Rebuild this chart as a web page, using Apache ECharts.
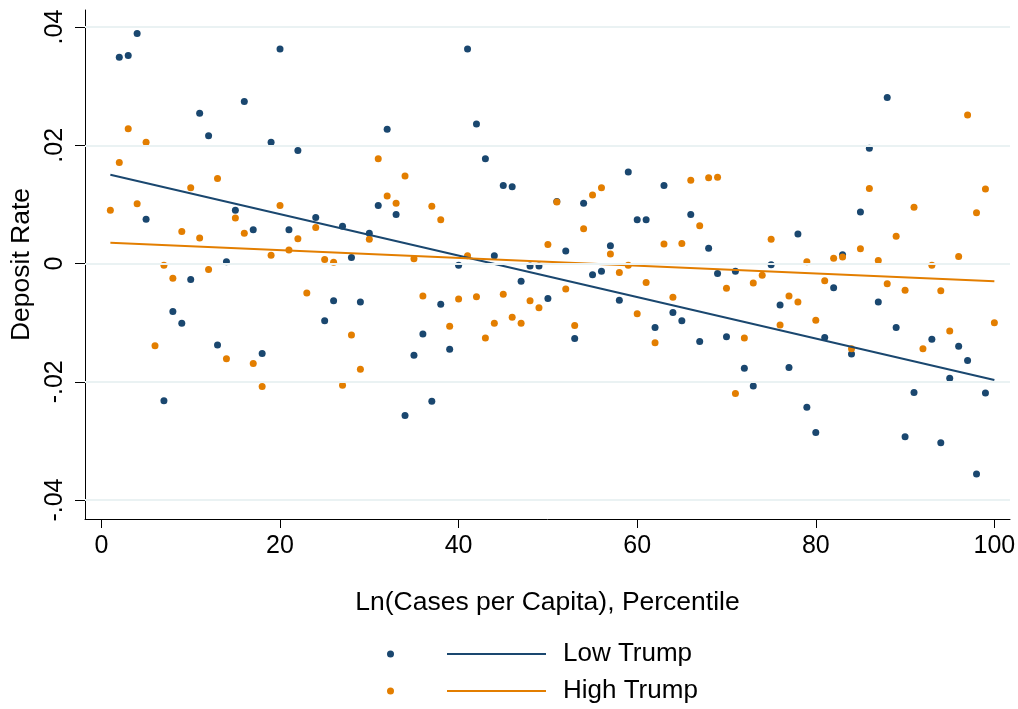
<!DOCTYPE html>
<html lang="en">
<head>
    <meta charset="UTF-8">
    <title>Deposit Rate</title>
    <script src="https://cdn.jsdelivr.net/npm/echarts@6.0.0/dist/echarts.min.js"></script>
    <style>
        html, body { margin: 0; padding: 0; background: #fff; }
        #main { width: 1018px; height: 709px; }
    </style>
</head>
<body>
<div id="main"></div>
<script>
    // percentiles 1..100, null where no dot is drawn
    var lowTrump = [
        null, 0.0349, 0.0352, 0.0389, 0.0075, null, -0.0232, -0.0081, -0.0101, -0.0027,
        0.0254, 0.0216, -0.0138, 0.0003, 0.0090, 0.0274, 0.0057, -0.0152, 0.0205, 0.0363,
        0.0057, 0.0191, null, 0.0078, -0.0097, -0.0063, 0.0063, 0.0010, -0.0065, 0.0051,
        0.0098, 0.0227, 0.0083, -0.0257, -0.0155, -0.0119, -0.0233, -0.0069, -0.0145, -0.0003,
        0.0363, 0.0236, 0.0177, 0.0013, 0.0132, 0.0130, -0.0030, -0.0004, -0.0004, -0.0059,
        0.0105, 0.0021, -0.0127, 0.0102, -0.0019, -0.0013, 0.0030, -0.0062, 0.0155, 0.0074,
        0.0074, -0.0108, 0.0132, -0.0083, -0.0097, 0.0083, -0.0132, 0.0026, -0.0017, -0.0124,
        -0.0013, -0.0177, -0.0207, null, -0.0002, -0.0070, -0.0176, 0.0050, -0.0243, -0.0286,
        -0.0125, -0.0041, 0.0015, -0.0153, 0.0087, 0.0195, -0.0065, 0.0281, -0.0108, -0.0293,
        -0.0218, null, -0.0128, -0.0303, -0.0194, -0.0140, -0.0164, -0.0356, -0.0219, null
    ];
    var highTrump = [
        0.0090, 0.0171, 0.0228, 0.0101, 0.0205, -0.0139, -0.0003, -0.0025, 0.0054, 0.0128,
        0.0043, -0.0010, 0.0144, -0.0161, 0.0077, 0.0051, -0.0169, -0.0208, 0.0014, 0.0098,
        0.0023, 0.0042, -0.0050, 0.0061, 0.0007, 0.0002, -0.0206, -0.0121, -0.0179, 0.0041,
        0.0177, 0.0114, 0.0102, 0.0148, 0.0008, -0.0055, 0.0097, 0.0074, -0.0106, -0.0060,
        0.0013, -0.0056, -0.0126, -0.0101, -0.0052, -0.0091, -0.0101, -0.0063, -0.0075, 0.0032,
        0.0104, -0.0043, -0.0105, 0.0059, 0.0116, 0.0128, 0.0016, -0.0015, -0.0003, -0.0085,
        -0.0032, -0.0134, 0.0033, -0.0057, 0.0034, 0.0141, 0.0064, 0.0145, 0.0146, -0.0042,
        -0.0220, -0.0126, -0.0033, -0.0020, 0.0041, -0.0104, -0.0055, -0.0065, 0.0003, -0.0096,
        -0.0029, 0.0009, 0.0011, -0.0144, 0.0025, 0.0127, 0.0005, -0.0034, 0.0046, -0.0045,
        0.0095, -0.0144, -0.0003, -0.0046, -0.0114, 0.0012, 0.0251, 0.0086, 0.0126, -0.0100
    ];
    // fitted lines, end points
    var lowFit = [[1, 0.0150], [100, -0.0197]];
    var highFit = [[1, 0.0035], [100, -0.0030]];

    var xTicks = [0, 20, 40, 60, 80, 100];
    var yTicks = [-0.04, -0.02, 0, 0.02, 0.04];

    var NAVY = '#1a476f';
    var ORANGE = '#e37e00';
    var FONT = 'Liberation Sans';

    function toPoints(arr) {
        var out = [];
        for (var i = 0; i < arr.length; i++) {
            if (arr[i] !== null) out.push([i + 1, arr[i]]);
        }
        return out;
    }

    function yLabel(v) {
        if (Math.abs(v) < 1e-9) return '0';
        return v.toFixed(2).replace('0.', '.');
    }

    var chart = echarts.init(document.getElementById('main'), null, {renderer: 'canvas'});

    var option = {
        animation: false,
        backgroundColor: '#fff',
        textStyle: {fontFamily: FONT},
        grid: {left: 85, top: 10, width: 925, height: 509, containLabel: false, outerBoundsMode: 'none'},
        xAxis: {
            type: 'value',
            min: -1.84,
            max: 101.75,
            name: 'Ln(Cases per Capita), Percentile',
            nameLocation: 'middle',
            nameGap: 70,
            nameTextStyle: {fontSize: 26.5, color: '#000', fontFamily: FONT},
            axisLine: {onZero: false, lineStyle: {color: '#000', width: 1}},
            axisTick: {show: true, length: 9, customValues: xTicks, lineStyle: {color: '#000'}},
            axisLabel: {customValues: xTicks, fontSize: 25, color: '#000', margin: 15, fontFamily: FONT},
            splitLine: {show: false}
        },
        yAxis: {
            type: 'value',
            min: -0.04321,
            max: 0.04288,
            name: 'Deposit Rate',
            nameLocation: 'middle',
            nameRotate: 90,
            nameGap: 33,
            nameTextStyle: {fontSize: 26.5, color: '#000', fontFamily: FONT},
            axisLine: {show: true, onZero: false, lineStyle: {color: '#000', width: 1}},
            axisTick: {show: true, length: 10, customValues: yTicks, lineStyle: {color: '#000'}},
            axisLabel: {customValues: yTicks, rotate: 90, fontSize: 25, color: '#000', margin: 17,
                formatter: yLabel, fontFamily: FONT},
            splitLine: {show: false}
        },
        legend: [
            {
                data: ['Low Trump dots', 'High Trump dots'],
                orient: 'vertical',
                left: 387,
                top: 641,
                padding: 0,
                icon: 'circle',
                itemWidth: 7,
                itemHeight: 7,
                itemGap: 11,
                selectedMode: false,
                formatter: function () { return ' '; },
                textStyle: {fontSize: 26, fontFamily: FONT}
            },
            {
                data: ['Low Trump', 'High Trump'],
                orient: 'vertical',
                left: 447,
                top: 641,
                padding: 0,
                icon: 'rect',
                itemWidth: 99,
                itemHeight: 2,
                itemGap: 11,
                selectedMode: false,
                textStyle: {fontSize: 26, color: '#000', fontFamily: FONT, padding: [0, 0, 0, 12]}
            }
        ],
        series: [
            {
                // grid lines at the tick values
                name: 'grid',
                type: 'scatter',
                data: [],
                z: 0,
                silent: true,
                markLine: {
                    silent: true,
                    symbol: 'none',
                    label: {show: false},
                    lineStyle: {color: '#eaf2f3', width: 2, type: 'solid'},
                    emphasis: {disabled: true},
                    data: yTicks.map(function (v) { return {yAxis: v}; })
                }
            },
            {
                name: 'Low Trump dots',
                type: 'scatter',
                data: toPoints(lowTrump),
                symbolSize: 7,
                itemStyle: {color: NAVY, opacity: 1},
                z: 2
            },
            {
                name: 'High Trump dots',
                type: 'scatter',
                data: toPoints(highTrump),
                symbolSize: 7,
                itemStyle: {color: ORANGE, opacity: 1},
                z: 2
            },
            {
                name: 'Low Trump',
                type: 'line',
                data: lowFit,
                showSymbol: false,
                lineStyle: {color: NAVY, width: 2},
                itemStyle: {color: NAVY},
                z: 3
            },
            {
                name: 'High Trump',
                type: 'line',
                data: highFit,
                showSymbol: false,
                lineStyle: {color: ORANGE, width: 2},
                itemStyle: {color: ORANGE},
                z: 3
            }
        ]
    };
    chart.setOption(option);
</script>
</body>
</html>
